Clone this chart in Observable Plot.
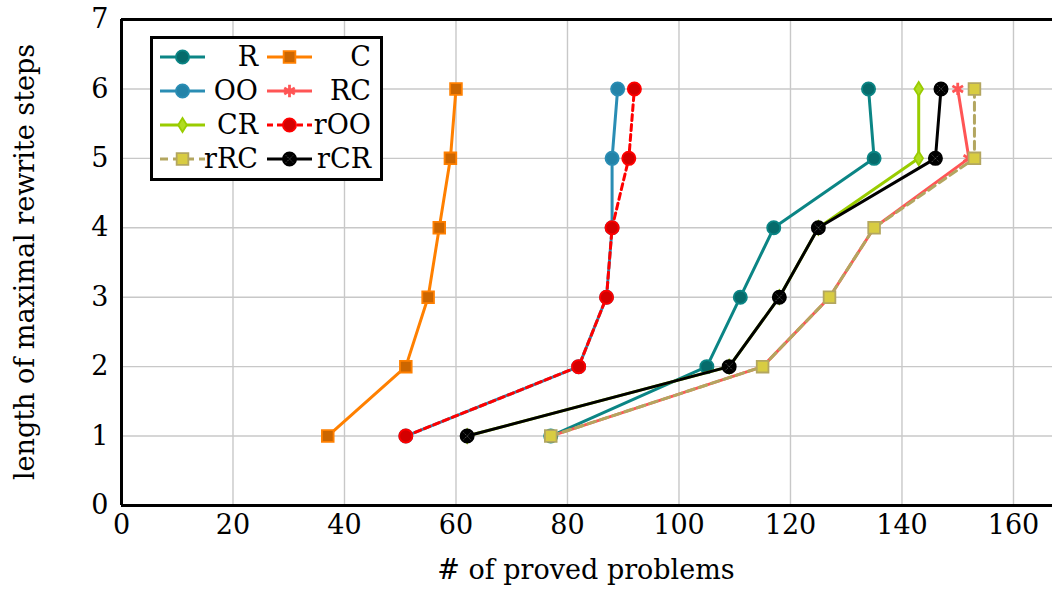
<!DOCTYPE html>
<html>
<head>
<meta charset="utf-8">
<script src="https://cdn.jsdelivr.net/npm/d3@7"></script>
<script src="https://cdn.jsdelivr.net/npm/@observablehq/plot@0.6"></script>
<style>
  html, body { margin: 0; padding: 0; background: #fff; }
  #chart { width: 1052px; height: 590px; overflow: hidden; }
</style>
</head>
<body>
<div id="chart"></div>
<script>
// ---- data ----
const steps = [1, 2, 3, 4, 5, 6];
const seriesNames = ["R", "C", "OO", "RC", "CR", "rOO", "rRC", "rCR"];
const R   = [77, 105, 111, 117, 135, 134];
const C   = [37, 51, 55, 57, 59, 60];
const OO  = [51, 82, 87, 88, 88, 89];
const RC  = [77, 115, 127, 135, 152, 150];
const CR  = [62, 109, 118, 125, 143, 143];
const rOO = [51, 82, 87, 88, 91, 92];
const rRC = [77, 115, 127, 135, 153, 153];
const rCR = [62, 109, 118, 125, 146, 147];
const xTicks = [0, 20, 40, 60, 80, 100, 120, 140, 160];
const yTicks = [0, 1, 2, 3, 4, 5, 6, 7];
const xLabel = "# of proved problems";
const yLabel = "length of maximal rewrite steps";

const valuesBy = {R, C, OO, RC, CR, rOO, rRC, rCR};
const rows = seriesNames.flatMap(name => valuesBy[name].map((v, i) => ({name, x: v, y: steps[i]})));

// ---- styles ----
const tallDiamond = {
  draw(ctx, size) {
    const r = Math.sqrt(size / Math.PI);
    ctx.moveTo(0, -1.2 * r);
    ctx.lineTo(0.75 * r, 0);
    ctx.lineTo(0, 1.2 * r);
    ctx.lineTo(-0.75 * r, 0);
    ctx.closePath();
  }
};
const styles = {
  R:   {stroke: "#0b8585", fill: "#066b6b", symbol: d3.symbolCircle, r: 6.6, dash: null},
  C:   {stroke: "#ff8000", fill: "#cc6600", symbol: d3.symbolSquare, r: 6.6, dash: null},
  OO:  {stroke: "#2a8db4", fill: "#2383a8", symbol: d3.symbolCircle, r: 6.6, dash: null},
  RC:  {stroke: "#ff5555", fill: "none",    symbol: d3.symbolAsterisk, r: 5.8, dash: null},
  CR:  {stroke: "#99cc00", fill: "#b0dc20", symbol: tallDiamond, r: 5.8, dash: null},
  rOO: {stroke: "#ff0000", fill: "#d40000", symbol: d3.symbolCircle, r: 6.6, dash: "6,4"},
  rRC: {stroke: "#b3a660", fill: "#d8cc42", symbol: d3.symbolSquare, r: 6.6, dash: "8,5"},
  rCR: {stroke: "#000000", fill: "#000000", symbol: d3.symbolCircle, r: 6.6, dash: null}
};

const FONT = "DejaVu Serif";
const FS = 27;
const LW = 3;

const seriesMarks = seriesNames.flatMap(name => {
  const s = styles[name];
  const data = rows.filter(d => d.name === name);
  const m = [
    Plot.line(data, {x: "x", y: "y", stroke: s.stroke, strokeWidth: LW, strokeDasharray: s.dash || undefined, curve: "linear"}),
    Plot.dot(data, {x: "x", y: "y", symbol: s.symbol, r: s.r, fill: s.fill, stroke: s.stroke, strokeWidth: name === "RC" ? 2.8 : 1.8})
  ];
  if (name === "rCR") {
    m.push(Plot.dot(data, {x: "x", y: "y", symbol: d3.symbolTimes, r: 3.4, stroke: "#5a5a5a", strokeWidth: 1, strokeDasharray: "1.2,1.2"}));
  }
  return m;
});

const chart = Plot.plot({
  width: 1052,
  height: 590,
  marginLeft: 121,
  marginRight: 0,
  marginTop: 19,
  marginBottom: 85,
  style: {fontFamily: FONT, fontSize: FS + "px", background: "#fff", color: "#000"},
  x: {domain: [0, 167]},
  y: {domain: [0, 7]},
  marks: [
    Plot.gridX(xTicks, {stroke: "#c8c8c8", strokeOpacity: 1, strokeWidth: 1.4}),
    Plot.gridY(yTicks, {stroke: "#c8c8c8", strokeOpacity: 1, strokeWidth: 1.4}),
    Plot.axisX(xTicks, {tickSize: 0, tickPadding: 9, label: null, fontSize: FS, fill: "#000", tickFormat: d => String(d)}),
    Plot.axisY(yTicks, {tickSize: 0, tickPadding: 13, label: null, fontSize: FS, fill: "#000", tickFormat: d => String(d)}),
    ...seriesMarks,
    Plot.ruleX([0], {stroke: "#000", strokeWidth: 3}),
    Plot.ruleY([0, 7], {stroke: "#000", strokeWidth: 3})
  ]
});
document.getElementById("chart").append(chart);

// ---- axis titles ----
const svg = d3.select(chart);
svg.append("text")
  .attr("x", 586).attr("y", 579)
  .attr("text-anchor", "middle")
  .attr("font-family", FONT).attr("font-size", FS)
  .attr("fill", "#000")
  .text(xLabel);
svg.append("text")
  .attr("transform", "translate(34,262) rotate(-90)")
  .attr("text-anchor", "middle")
  .attr("font-family", FONT).attr("font-size", FS)
  .attr("fill", "#000")
  .text(yLabel);

// ---- legend ----
const lg = svg.append("g");
lg.append("rect").attr("x", 151.5).attr("y", 37.5).attr("width", 230).attr("height", 142)
  .attr("fill", "#fff").attr("stroke", "#000").attr("stroke-width", 3);
const rowY = [57, 91, 125, 159];
const cols = [{x0: 160, x1: 205, tx: 258}, {x0: 267, x1: 312, tx: 371}];
seriesNames.forEach((name, i) => {
  const s = styles[name];
  const c = cols[i % 2];
  const y = rowY[Math.floor(i / 2)];
  const cx = (c.x0 + c.x1) / 2;
  lg.append("line").attr("x1", c.x0).attr("x2", c.x1).attr("y1", y).attr("y2", y)
    .attr("stroke", s.stroke).attr("stroke-width", LW)
    .attr("stroke-dasharray", s.dash);
  lg.append("path").attr("transform", `translate(${cx},${y})`)
    .attr("d", d3.symbol(s.symbol, s.r * s.r * Math.PI)())
    .attr("fill", s.fill).attr("stroke", s.stroke)
    .attr("stroke-width", name === "RC" ? 2.8 : 1.8);
  if (name === "rCR") {
    lg.append("path").attr("transform", `translate(${cx},${y})`)
      .attr("d", d3.symbol(d3.symbolTimes, 3.4 * 3.4 * Math.PI)())
      .attr("fill", "none").attr("stroke", "#5a5a5a").attr("stroke-width", 1)
      .attr("stroke-dasharray", "1.2,1.2");
  }
  lg.append("text").attr("x", c.tx).attr("y", y).attr("dy", "0.35em")
    .attr("text-anchor", "end")
    .attr("font-family", FONT).attr("font-size", FS).attr("fill", "#000")
    .text(name);
});
</script>
</body>
</html>
